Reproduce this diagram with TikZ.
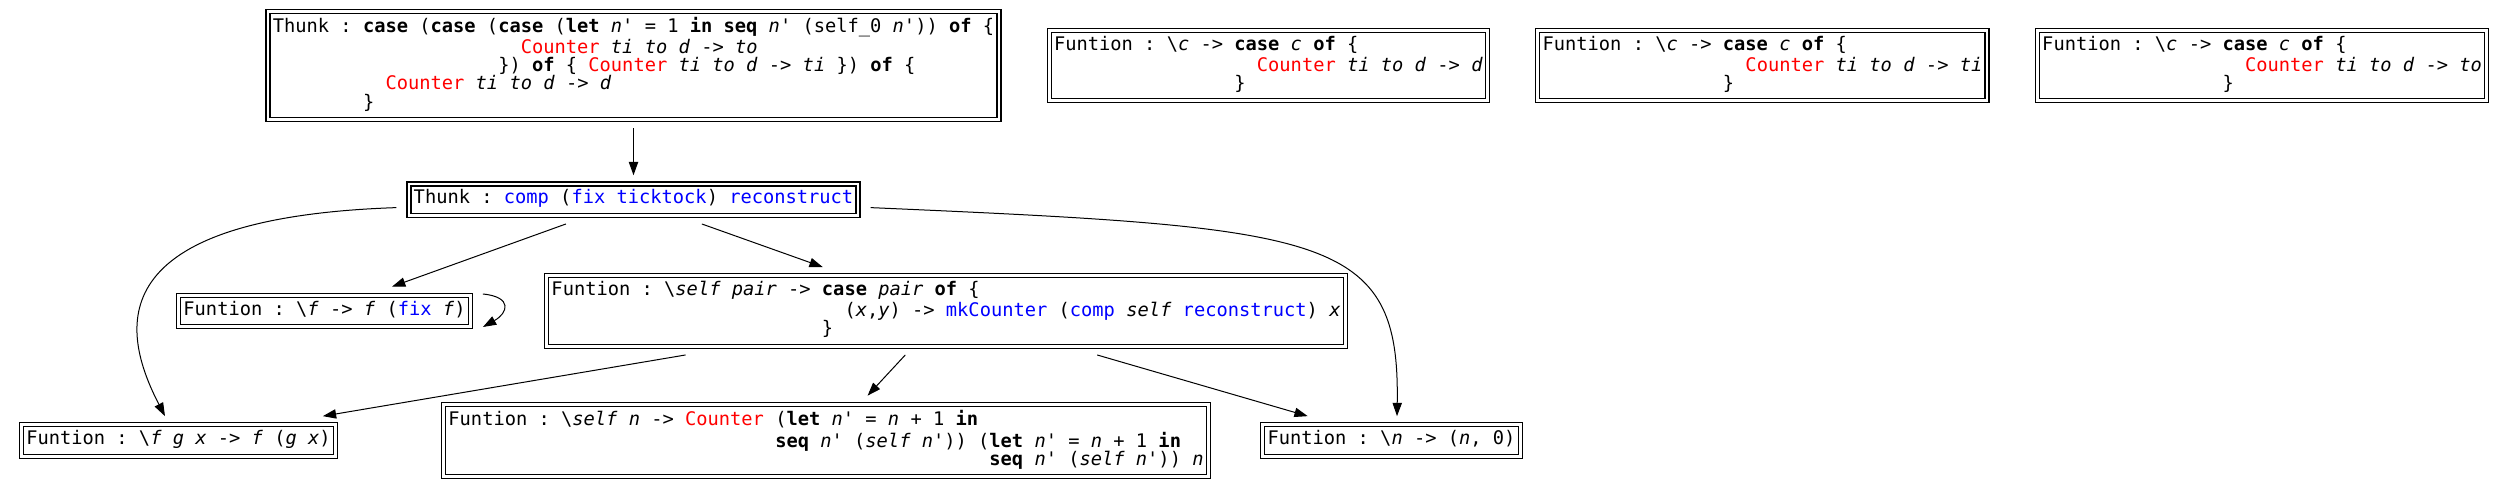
\documentclass[tikz,border=0pt]{standalone}
\usepackage{fontspec}
\setmonofont{DejaVu Sans Mono}
\usepackage{tikz}
\usetikzlibrary{arrows.meta,positioning}

\newcommand\kw[1]{\textbf{#1}}
\newcommand\vr[1]{\textit{#1}}
\newcommand\con[1]{\textcolor{red}{#1}}
\newcommand\glob[1]{\textcolor{blue}{#1}}
\newcommand\lam{\textbackslash}
\newcommand\ind[1]{\hspace*{#1\fontdimen2\font}}

\begin{document}
\begin{tikzpicture}[
    x=1pt, y=-1pt,
    heapcell/.style={
      draw,
      line width=1.3pt,
      double=white,
      double distance=2.7pt,
      align=left,
      inner xsep=4.8pt,
      inner ysep=5.9pt,
      outer xsep=12.6pt,
      outer ysep=8.6pt,
      font=\ttfamily\fontsize{18.72pt}{18.3pt}\selectfont
    },
    link/.style={-{Triangle[length=13.3pt,width=9.3pt]}, line width=1pt}
  ]
    \path[use as bounding box, fill=white] (0,0) rectangle (2505,488);

    % top row
    \node[heapcell] (rootthunk) at (633.5,65.5)
      {\strut Thunk : \kw{case} (\kw{case} (\kw{case} (\kw{let} \vr{n}' = 1 \kw{in} \kw{seq} \vr{n}' (self\_0 \vr{n}')) \kw{of} \{\\
       \ind{22}\con{Counter} \vr{ti to d} -> \vr{to}\\
       \ind{20}\}) \kw{of} \{ \con{Counter} \vr{ti to d} -> \vr{ti} \}) \kw{of} \{\\
       \ind{10}\con{Counter} \vr{ti to d} -> \vr{d}\\
       \ind{8}\}\strut};
    \node[heapcell, right=25.1pt of rootthunk] (selectd)
      {\strut Funtion : \lam\vr{c} -> \kw{case} \vr{c} \kw{of} \{\\
       \ind{18}\con{Counter} \vr{ti to d} -> \vr{d}\\
       \ind{16}\}\strut};
    \node[heapcell, right=25.1pt of selectd] (selectti)
      {\strut Funtion : \lam\vr{c} -> \kw{case} \vr{c} \kw{of} \{\\
       \ind{18}\con{Counter} \vr{ti to d} -> \vr{ti}\\
       \ind{16}\}\strut};
    \node[heapcell, right=25.1pt of selectti] (selectto)
      {\strut Funtion : \lam\vr{c} -> \kw{case} \vr{c} \kw{of} \{\\
       \ind{18}\con{Counter} \vr{ti to d} -> \vr{to}\\
       \ind{16}\}\strut};

    \node[heapcell, below=47.1pt of rootthunk] (compthunk)
      {\strut Thunk : \glob{comp} (\glob{fix ticktock}) \glob{reconstruct}\strut};

    % second row
    \node[heapcell] (fixfun) at (324.5,311)
      {\strut Funtion : \lam\vr{f} -> \vr{f} (\glob{fix} \vr{f})\strut};
    \node[heapcell] (pairfun) at (946,311)
      {\strut Funtion : \lam\vr{self pair} -> \kw{case} \vr{pair} \kw{of} \{\\
       \ind{26}(\vr{x},\vr{y}) -> \glob{mkCounter} (\glob{comp} \vr{self} \glob{reconstruct}) \vr{x}\\
       \ind{24}\}\strut};

    % bottom row
    \node[heapcell] (composefun) at (178.5,440.5)
      {\strut Funtion : \lam\vr{f g x} -> \vr{f} (\vr{g x})\strut};
    \node[heapcell] (counterfun) at (826,440.5)
      {\strut Funtion : \lam\vr{self n} -> \con{Counter} (\kw{let} \vr{n}' = \vr{n} + 1 \kw{in}\\
       \ind{29}\kw{seq} \vr{n}' (\vr{self n}')) (\kw{let} \vr{n}' = \vr{n} + 1 \kw{in}\\
       \ind{48}\kw{seq} \vr{n}' (\vr{self n}')) \vr{n}\strut};
    \node[heapcell] (initfun) at (1391.5,440.5)
      {\strut Funtion : \lam\vr{n} -> (\vr{n}, 0)\strut};

    \draw[link] (rootthunk) -- (compthunk);
    \draw[link] (compthunk) -- (fixfun);
    \draw[link] (compthunk) -- (pairfun);
    \draw[link] ([yshift=-8pt]compthunk.west)
      .. controls +(-297,10) and +(-45,-87) .. ([xshift=-13.5pt]composefun.north);
    \draw[link] ([yshift=-8pt]compthunk.east)
      .. controls +(458,20) and +(3,-182) .. ([xshift=5.5pt]initfun.north);
    \draw[link] ([yshift=17pt]fixfun.east)
      .. controls +(30,3) and +(25,-14) .. ([yshift=-16pt]fixfun.east);
    \draw[link] (pairfun) -- (composefun);
    \draw[link] (pairfun) -- (counterfun);
    \draw[link] (pairfun) -- (initfun);
  \end{tikzpicture}
\end{document}
